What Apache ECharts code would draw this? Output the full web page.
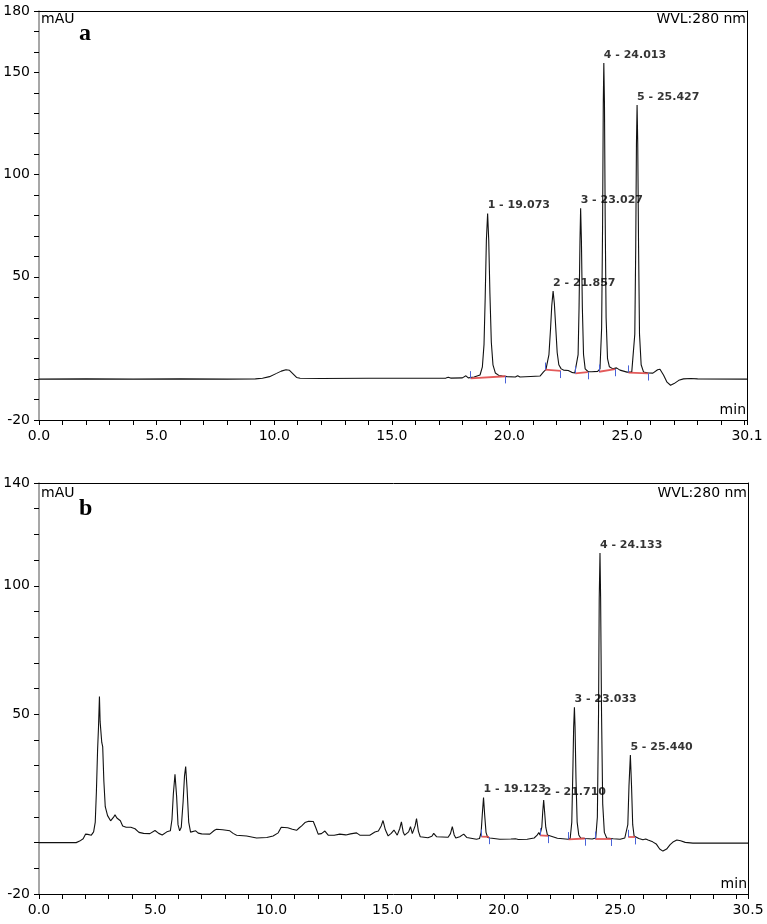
<!DOCTYPE html>
<html><head><meta charset="utf-8">
<script src="https://cdn.jsdelivr.net/npm/echarts@6/dist/echarts.min.js"></script>
<style>html,body{margin:0;padding:0;background:#fff}#c{width:767px;height:924px}</style>
</head><body><div id="c"></div>
<script>
// ---------- Chromatogram a ----------
const timeA = [0, 2, 4, 6, 8, 9.2, 9.5, 9.8, 10.1, 10.3, 10.5, 10.65, 10.8, 10.95, 11.1, 12, 14, 16, 17.3, 17.4, 17.5, 18.0, 18.15, 18.25, 18.5,
  18.75, 18.85, 18.92, 18.97, 19.02, 19.073, 19.12, 19.17, 19.23, 19.3, 19.4, 19.55, 19.7, 19.9, 20.25, 20.35, 20.45, 20.9, 21.3, 21.45, 21.55,
  21.6, 21.68, 21.75, 21.8, 21.857, 21.91, 21.97, 22.03, 22.1, 22.2, 22.3, 22.5, 22.65, 22.78,
  22.85, 22.92, 22.96, 23.0, 23.027, 23.06, 23.1, 23.15, 23.22, 23.35, 23.5, 23.75,
  23.85, 23.92, 23.96, 23.99, 24.013, 24.04, 24.07, 24.11, 24.17, 24.25, 24.4, 24.55, 24.62, 24.7, 25.0, 25.2,
  25.27, 25.33, 25.37, 25.4, 25.427, 25.455, 25.49, 25.53, 25.6, 25.7, 25.9, 26.1, 26.3, 26.4, 26.55, 26.7, 26.85, 27.0, 27.2, 27.4, 27.7, 28, 30.1];
const valA = [0, 0.1, 0, 0.1, 0, 0.1, 0.4, 1.2, 2.8, 3.9, 4.6, 4.3, 2.6, 0.8, 0.4, 0.3, 0.4, 0.4, 0.5, 0.9, 0.5, 0.6, 1.6, 0.6, 1.0,
  2, 6, 17, 40, 68, 81, 68, 42, 18, 7, 3, 1.8, 1.5, 1.2, 1.0, 1.6, 1.0, 1.3, 1.5, 3.5, 4.6,
  5.5, 12, 25, 36, 43, 37, 25, 13, 7, 5, 4.4, 4.2, 3.3, 3.0,
  3.5, 12, 35, 68, 83.5, 68, 35, 12, 5, 3.6, 3.6, 3.8,
  5, 25, 75, 135, 154.6, 135, 80, 30, 10, 6, 5.0, 5.5, 5.8, 4.4, 3.4, 3.4,
  4, 22, 65, 115, 134, 115, 65, 22, 7, 3.5, 3.0, 2.9, 4.6, 4.8, 2, -1.5, -3.0, -2.2, -0.6, 0.1, 0.3, 0.1, 0];
const peakTimeA = [19.073, 21.857, 23.027, 24.013, 25.427];
const peakValA = [81, 43, 83.5, 154.6, 134];
const peakNameA = ['1 - 19.073', '2 - 21.857', '3 - 23.027', '4 - 24.013', '5 - 25.427'];
const baseStartTA = [18.35, 21.51, 22.8, 23.81, 25.06];
const baseStartVA = [0.4, 4.6, 2.8, 3.6, 3.2];
const baseEndTA = [19.84, 22.18, 23.33, 24.49, 25.9];
const baseEndVA = [1.4, 4.0, 3.4, 4.9, 2.8];
const xLabelsA = [0, 5, 10, 15, 20, 25, 30.1];
const yLabelsA = [180, 150, 100, 50, -20];

// ---------- Chromatogram b ----------
const timeB = [0, 1.6, 1.75, 1.9, 2.0, 2.1, 2.25, 2.35, 2.42, 2.47, 2.52, 2.56, 2.6, 2.63, 2.66, 2.7, 2.74, 2.79, 2.85, 2.95, 3.08, 3.2, 3.27, 3.35, 3.42, 3.5, 3.6, 3.75, 3.95,
  4.13, 4.3, 4.5, 4.77, 4.99, 5.15, 5.3, 5.5, 5.56, 5.65, 5.72, 5.78, 5.85, 5.92, 5.98, 6.05, 6.12, 6.2, 6.26, 6.31, 6.37, 6.44, 6.52, 6.6, 6.74, 6.85, 7.0,
  7.35, 7.55, 7.64, 7.9, 8.21, 8.35, 8.5, 8.93, 9.36, 9.8, 10.07, 10.29, 10.42, 10.5, 10.7, 10.9, 11.08, 11.2, 11.3, 11.44, 11.6, 11.8, 11.9, 12.01, 12.15, 12.3, 12.44,
  12.7, 12.94, 13.2, 13.4, 13.66, 13.8, 14.23, 14.45, 14.6, 14.72, 14.8, 14.9, 15.02, 15.15, 15.27, 15.41, 15.52, 15.59, 15.67, 15.73, 15.9, 15.98, 16.06, 16.1,
  16.18, 16.24, 16.32, 16.4, 16.73, 16.9, 16.98, 17.1, 17.6, 17.7, 17.78, 17.86, 17.93, 18.1, 18.27, 18.4, 18.82,
  18.95, 19.02, 19.07, 19.123, 19.17, 19.23, 19.3, 19.4, 19.82, 20.3, 20.5, 20.56, 20.62, 21.0, 21.3, 21.42, 21.5, 21.55,
  21.58, 21.63, 21.67, 21.71, 21.75, 21.8, 21.87, 21.95, 22.3, 22.76,
  22.85, 22.92, 22.97, 23.0, 23.033, 23.06, 23.1, 23.15, 23.22, 23.3, 23.5, 23.8,
  23.95, 24.02, 24.07, 24.1, 24.133, 24.16, 24.2, 24.25, 24.32, 24.42, 24.7, 25.0, 25.2,
  25.27, 25.33, 25.38, 25.44, 25.49, 25.54, 25.6, 25.65, 25.8, 25.98, 26.1, 26.2, 26.27, 26.4, 26.55, 26.7, 26.84, 27.0, 27.15, 27.27, 27.44, 27.6, 27.8, 28.13, 30.5];
const valB = [0, 0, 0.6, 1.5, 3.3, 3.2, 2.9, 4.2, 8, 20, 36, 45, 56.9, 47, 46.8, 39, 37.4, 24, 14, 10.5, 8.5, 9.8, 10.8, 9.6, 9.2, 8.5, 6.5, 6.0, 6.0,
  5.4, 4.0, 3.6, 3.5, 4.7, 3.6, 3.0, 4.2, 4.9, 4.6, 9, 19, 26.6, 18, 7, 4.6, 6, 16, 26, 29.6, 21, 8, 4.1, 4.0, 4.6, 3.7, 3.4,
  3.3, 4.8, 5.2, 5.0, 4.6, 3.6, 2.9, 2.6, 1.8, 2.0, 2.6, 3.8, 6.0, 6.7, 5.8, 5.2, 4.8, 5.8, 6.5, 7.8, 8.3, 8.2, 6.0, 3.3, 3.5, 4.5, 2.9,
  2.9, 3.3, 3.0, 3.4, 3.8, 2.9, 2.9, 4.1, 4.5, 6.5, 8.6, 5.0, 2.6, 3.6, 4.9, 2.9, 5.5, 8.1, 4.0, 2.9, 4.2, 6.2, 3.5, 2.9,
  6.5, 9.4, 4.5, 2.3, 1.9, 2.5, 3.6, 2.3, 2.1, 3.5, 6.2, 3.0, 1.8, 2.3, 3.3, 2.0, 1.3,
  1.6, 4, 11, 17.6, 11, 4, 2, 1.8, 1.3, 1.4, 1.5, 2.2, 1.2, 1.3, 1.8, 2.8, 3.9, 3.0,
  3.2, 6, 12, 16.6, 12, 6, 3, 2.3, 1.7, 1.3,
  1.6, 8, 30, 45, 52.7, 45, 25, 8, 3, 1.8, 1.6, 1.4,
  1.8, 10, 50, 95, 112.7, 95, 50, 15, 4, 1.8, 1.5, 1.3, 1.8,
  2.2, 7, 22, 34.1, 22, 7, 2.6, 2.0, 1.6, 1.1, 1.4, 1.0, 0.8, 0.3, -0.5, -2.5, -3.3, -2.5, -0.8, 0.2, 1.0, 0.7, 0.1, -0.2, -0.2];
const peakTimeB = [19.123, 21.71, 23.033, 24.133, 25.44];
const peakValB = [17.6, 16.6, 52.7, 112.7, 34.1];
const peakNameB = ['1 - 19.123', '2 - 21.710', '3 - 23.033', '4 - 24.133', '5 - 25.440'];
const baseStartTB = [19.03, 21.55, 22.78, 23.93, 25.35];
const baseStartVB = [2.3, 2.8, 1.3, 1.5, 2.2];
const baseEndTB = [19.36, 21.9, 23.48, 24.62, 25.65];
const baseEndVB = [2.2, 2.6, 1.6, 1.5, 2.1];
const xLabelsB = [0, 5, 10, 15, 20, 25, 30.5];
const yLabelsB = [140, 100, 50, -20];

const FONT = 'DejaVu Sans';
const chart = echarts.init(document.getElementById('c'), null, {renderer: 'canvas'});

function xAxis(gi, max, labels) {
  return {
    type: 'value', gridIndex: gi, min: 0, max: max, interval: 1, position: 'bottom',
    axisLine: {show: true, onZero: false, lineStyle: {color: '#000', width: 1}},
    axisTick: {show: true, length: 5, lineStyle: {color: '#000', width: 1}},
    splitLine: {show: false},
    axisLabel: {
      show: true, margin: 9, color: '#000', fontFamily: FONT, fontSize: 14,
      formatter: v => labels.some(l => Math.abs(l - v) < 1e-6) ? v.toFixed(1) : ''
    }
  };
}
function yAxis(gi, min, max, labels) {
  return {
    type: 'value', gridIndex: gi, min: min, max: max, interval: 10, position: 'left',
    axisLine: {show: true, onZero: false, lineStyle: {color: '#8a8a8a', width: 1.5}},
    axisTick: {show: true, length: 5, lineStyle: {color: '#000', width: 1}},
    splitLine: {show: false},
    axisLabel: {
      show: true, margin: 9, color: '#000', fontFamily: FONT, fontSize: 14,
      formatter: v => labels.includes(v) ? String(v) : ''
    }
  };
}
// plain frame lines (top / right) for each panel
function frameX(gi, max) {
  return {type: 'value', gridIndex: gi, min: 0, max: max, position: 'top',
    axisLine: {show: true, onZero: false, lineStyle: {color: '#000', width: 1}},
    axisTick: {show: false}, axisLabel: {show: false}, splitLine: {show: false}};
}
function frameY(gi, min, max) {
  return {type: 'value', gridIndex: gi, min: min, max: max, position: 'right',
    axisLine: {show: true, onZero: false, lineStyle: {color: '#000', width: 1}},
    axisTick: {show: false}, axisLabel: {show: false}, splitLine: {show: false}};
}
function traceSeries(i, times, vals) {
  return {
    type: 'line', xAxisIndex: i, yAxisIndex: i, showSymbol: false, symbol: 'none',
    data: times.map((t, k) => [t, vals[k]]),
    lineStyle: {color: '#111', width: 1.1}, silent: true, z: 3
  };
}
function baseSeries(i, st, sv, et, ev) {
  return {
    type: 'lines', coordinateSystem: 'cartesian2d', xAxisIndex: i, yAxisIndex: i,
    data: st.map((t, k) => ({coords: [[t, sv[k]], [et[k], ev[k]]]})),
    lineStyle: {color: '#e04848', width: 1.8, opacity: 0.9}, silent: true, z: 4
  };
}
function tickSeries(i, st, sv, et, ev, len) {
  const d = [];
  st.forEach((t, k) => {
    d.push({coords: [[t, sv[k]], [t, sv[k] + len]]});
    d.push({coords: [[et[k], ev[k]], [et[k], ev[k] - len]]});
  });
  return {
    type: 'lines', coordinateSystem: 'cartesian2d', xAxisIndex: i, yAxisIndex: i,
    data: d, lineStyle: {color: '#4a63d8', width: 1, opacity: 1}, silent: true, z: 5
  };
}
function labelSeries(i, times, vals, names) {
  return {
    type: 'scatter', xAxisIndex: i, yAxisIndex: i, symbolSize: 1,
    itemStyle: {color: 'rgba(0,0,0,0)'},
    data: times.map((t, k) => ({value: [t, vals[k]], name: names[k]})),
    label: {
      show: true, position: 'top', distance: 2, align: 'left', offset: [1, 0],
      formatter: '{b}', color: '#000', fontFamily: FONT, fontWeight: 'bold', fontSize: 11
    },
    labelLayout: {hideOverlap: false},
    silent: true, z: 6
  };
}

const txt = (x, y, text, extra) => ({type: 'text', x: x, y: y, silent: true,
  style: Object.assign({text: text, fill: '#000', font: '14px "DejaVu Sans"'}, extra || {})});

chart.setOption({
  animation: false,
  backgroundColor: '#fff',
  grid: [
    {left: 39, right: 20, top: 11, bottom: 504, show: false},
    {left: 39, right: 19, top: 483, bottom: 30, show: false}
  ],
  xAxis: [xAxis(0, 30.1, xLabelsA), xAxis(1, 30.5, xLabelsB), frameX(0, 30.1), frameX(1, 30.5)],
  yAxis: [yAxis(0, -20, 180, yLabelsA), yAxis(1, -20, 140, yLabelsB), frameY(0, -20, 180), frameY(1, -20, 140)],
  series: [
    traceSeries(0, timeA, valA),
    baseSeries(0, baseStartTA, baseStartVA, baseEndTA, baseEndVA),
    tickSeries(0, baseStartTA, baseStartVA, baseEndTA, baseEndVA, 3.5),
    labelSeries(0, peakTimeA, peakValA, peakNameA),
    traceSeries(1, timeB, valB),
    baseSeries(1, baseStartTB, baseStartVB, baseEndTB, baseEndVB),
    tickSeries(1, baseStartTB, baseStartVB, baseEndTB, baseEndVB, 2.8),
    labelSeries(1, peakTimeB, peakValB, peakNameB)
  ],
  graphic: [
    txt(41, 12, 'mAU'),
    txt(746, 12, 'WVL:280 nm', {textAlign: 'right'}),
    txt(746, 403, 'min', {textAlign: 'right'}),
    txt(79, 34, 'a', {font: 'bold 24px "Liberation Serif"', textVerticalAlign: 'middle'}),
    txt(41, 486, 'mAU'),
    txt(747, 486, 'WVL:280 nm', {textAlign: 'right'}),
    txt(747, 877, 'min', {textAlign: 'right'}),
    txt(79, 509, 'b', {font: 'bold 24px "Liberation Serif"', textVerticalAlign: 'middle'})
  ]
});
</script>
</body></html>
